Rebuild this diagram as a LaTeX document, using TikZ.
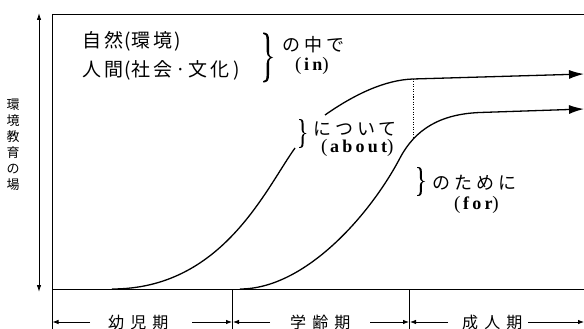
\documentclass[tikz,border=0pt]{standalone}
\usepackage{fontspec}
\usetikzlibrary{arrows.meta}
\newfontfamily\cjk{Noto Sans CJK JP}
\newfontfamily\cjkA[LetterSpace=15]{Noto Sans CJK JP}
\newfontfamily\cjkB[LetterSpace=22]{Noto Sans CJK JP}
\newfontfamily\cjkC[LetterSpace=38]{Noto Sans CJK JP}
\newfontfamily\latR{Liberation Serif}
\newfontfamily\latB[LetterSpace=18]{Liberation Serif}
\tikzset{
  frameline/.style={line width=0.9pt},
  curveline/.style={line width=1.3pt},
  bigtip/.style={-{Latex[length=15pt,width=9pt]}},
  axisline/.style={line width=0.9pt,{Latex[length=7pt,width=4.5pt]}-{Latex[length=7pt,width=4.5pt]}},
  spanline/.style={line width=0.8pt,-{Latex[length=6pt,width=4.5pt]}},
  dotline/.style={line width=0.9pt,dash pattern=on 1pt off 1.5pt},
  txtA/.style={inner sep=0pt,anchor=west,font=\cjkA\fontsize{19}{19}\selectfont},
  txtB/.style={inner sep=0pt,anchor=west,font=\cjkB\fontsize{18}{18}\selectfont},
  txtC/.style={inner sep=0pt,anchor=west,font=\cjkC\fontsize{16}{16}\selectfont},
  lat/.style={inner sep=0pt,anchor=west,font=\latR\fontsize{19}{19}\selectfont},
  rbrace/.pic={
    \fill (0,1) .. controls (0.45,1) and (0.6,0.92) .. (0.6,0.7) -- (0.6,0.22)
      .. controls (0.6,0.08) and (0.75,0) .. (1,0)
      .. controls (0.75,0) and (0.6,-0.08) .. (0.6,-0.22) -- (0.6,-0.7)
      .. controls (0.6,-0.92) and (0.45,-1) .. (0,-1) -- (0,-0.95)
      .. controls (0.25,-0.95) and (0.36,-0.88) .. (0.36,-0.7) -- (0.36,-0.25)
      .. controls (0.36,-0.12) and (0.5,-0.03) .. (0.7,0)
      .. controls (0.5,0.03) and (0.36,0.12) .. (0.36,0.25) -- (0.36,0.7)
      .. controls (0.36,0.88) and (0.25,0.95) .. (0,0.95) -- cycle;
  },
}
\newcommand{\engl}[1]{(\hspace{2.5pt}{\latB\bfseries\fontsize{18}{18}\selectfont #1})}
\begin{document}
\begin{tikzpicture}[x=1pt,y=-1pt]
\useasboundingbox (0,0) rectangle (584,329);
% frame
\coordinate (O) at (52,289);
\coordinate (TL) at (52,14);
\coordinate (TR) at (584,14);
\coordinate (BR) at (584,289);
\coordinate (LB) at (52,329);
\coordinate (t1) at (232.5,289);
\coordinate (t1b) at (232.5,329);
\coordinate (t2) at (409.5,289);
\coordinate (t2b) at (409.5,329);
\draw[frameline] (TL) -- (TR);
\draw[frameline] (TL) -- (LB);
\draw[frameline] (O) -- (BR);
\draw[frameline] (t1) -- (t1b);
\draw[frameline] (t2) -- (t2b);
% axis
\coordinate (ax1) at (39,13);
\coordinate (ax2) at (39,292);
\draw[axisline] (ax1) -- (ax2);
\node[inner sep=0pt,align=center,font=\cjk\fontsize{13}{16}\selectfont] (vt) at (13,145) {環\\境\\教\\育\\の\\場};
% upper curve
\coordinate (u0) at (112,289);
\coordinate (u1) at (295,148);
\coordinate (u2) at (325,115);
\coordinate (u3) at (413,79);
\coordinate (u4) at (584,74);
\draw[curveline] (u0) .. controls (222,289) and (265,190) .. (u1);
\draw[curveline,bigtip] (u2) .. controls (355,94) and (385,80) .. (u3) -- (u4);
% lower curve
\coordinate (l0) at (240,289);
\coordinate (l1) at (400,158);
\coordinate (l2) at (480,112.5);
\coordinate (l3) at (584,109);
\draw[curveline,bigtip] (l0) .. controls (305,289) and (370,215) .. (l1) .. controls (415,129.5) and (440,114) .. (l2) -- (l3);
% dotted
\coordinate (dbot) at (413,139);
\draw[dotline] (u3) -- (dbot);
% texts
\node[txtA] (nat) at (82,41.5) {自然\hspace{1pt}(\hspace{1pt}環境\hspace{2pt})};
\node[txtA] (hum) at (82,70.5) {人間\hspace{1pt}(\hspace{1pt}社会·文化\hspace{4pt})};
\pic[xscale=10,yscale=25] at (263,57.5) {rbrace};
\node[txtB] (naka) at (282,45) {の中で};
\node[lat] (in) at (295,65.5) {\engl{in}};
\pic[xscale=7.5,yscale=14.5] at (299,133.5) {rbrace};
\node[txtB] (abt) at (313,129) {について};
\node[lat] (about) at (321,148) {\engl{about}};
\pic[xscale=8,yscale=14.5] at (417,181.5) {rbrace};
\node[txtB] (tame) at (432,183) {のために};
\node[lat] (for) at (454,205) {\engl{for}};
% bottom spans
\node[txtC] (g1) at (108,322) {幼児期};
\node[txtC] (g2) at (290,322) {学齢期};
\node[txtC] (g3) at (462,322) {成人期};
\coordinate (g1l) at (90,322);
\coordinate (g1r) at (192,322);
\coordinate (g2l) at (270,322);
\coordinate (g2r) at (370,322);
\coordinate (g3l) at (448,322);
\coordinate (g3r) at (528,322);
\coordinate (e0) at (52.5,322);
\coordinate (e1a) at (232,322);
\coordinate (e1b) at (233,322);
\coordinate (e2a) at (409,322);
\coordinate (e2b) at (410,322);
\coordinate (e3) at (584,322);
\draw[spanline] (g1l) -- (e0);
\draw[spanline] (g1r) -- (e1a);
\draw[spanline] (g2l) -- (e1b);
\draw[spanline] (g2r) -- (e2a);
\draw[spanline] (g3l) -- (e2b);
\draw[spanline] (g3r) -- (e3);
\end{tikzpicture}
\end{document}
